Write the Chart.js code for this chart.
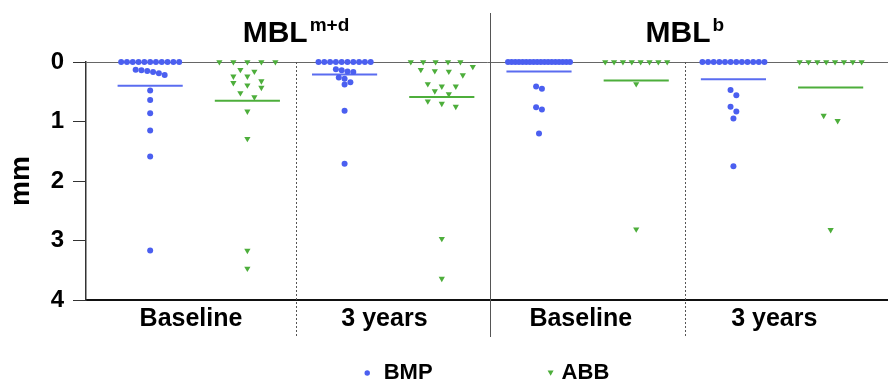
<!DOCTYPE html>
<html lang="en">
<head>
<meta charset="UTF-8" />
<title>MBL dot plot</title>
<script src="https://cdn.jsdelivr.net/npm/chart.js"></script>
<style>
  body { margin: 0; background: #fff; }
  .wrap { width: 888px; height: 383px; }
</style>
</head>
<body>
<div class="wrap"><canvas id="mbl-chart"></canvas></div>
<script>
// columns, left to right: MBL m+d baseline, MBL m+d 3 years, MBL b baseline, MBL b 3 years
const groupTitles = [["MBL", "m+d"], ["MBL", "b"]];
const timeLabels = ["Baseline", "3 years", "Baseline", "3 years"];
const seriesNames = ["BMP", "ABB"];
const yTicks = [0, 1, 2, 3, 4];

const bmpValues = [
  [0, 0, 0, 0, 0, 0, 0, 0, 0, 0, 0, 0.13, 0.14, 0.15, 0.17, 0.19, 0.22, 0.48, 0.64, 0.86, 1.15, 1.59, 3.17],
  [0, 0, 0, 0, 0, 0, 0, 0, 0, 0, 0.12, 0.14, 0.16, 0.17, 0.26, 0.28, 0.34, 0.38, 0.82, 1.71],
  [0, 0, 0, 0, 0, 0, 0, 0, 0, 0, 0, 0, 0, 0, 0, 0, 0, 0, 0.41, 0.45, 0.76, 0.80, 1.20],
  [0, 0, 0, 0, 0, 0, 0, 0, 0, 0, 0, 0, 0.47, 0.56, 0.75, 0.83, 0.95, 1.75]
];
const abbValues = [
  [0, 0, 0, 0, 0, 0.13, 0.16, 0.24, 0.24, 0.32, 0.35, 0.39, 0.43, 0.52, 0.59, 0.83, 1.29, 3.17, 3.47],
  [0, 0, 0, 0, 0, 0.08, 0.13, 0.15, 0.16, 0.22, 0.37, 0.41, 0.41, 0.49, 0.54, 0.66, 0.70, 0.75, 2.97, 3.64],
  [0, 0, 0, 0, 0, 0, 0, 0, 0.37, 2.81],
  [0, 0, 0, 0, 0, 0, 0, 0, 0.90, 0.99, 2.82]
];
const bmpMeans = [0.40, 0.21, 0.16, 0.29];
const abbMeans = [0.65, 0.59, 0.31, 0.43];

const BLUE = "#4b5ff0";
const GREEN = "#4dae3b";
const FONT = "'Liberation Sans', Arial, sans-serif";

// x axis: column k sits at x = k (BMP even, ABB odd)
const X_MIN = -0.66, X_MAX = 7.59;
const PX_PER_X = 802 / (X_MAX - X_MIN);
const labelPos = [0.42, 2.41, 4.43, 6.42];
const splitPos = [1.5, 3.5, 5.5];
const titlePos = [1.5, 5.5];
const MEAN_HALF = 0.335;

// simple row swarm: values within 0.1 mm share a row and get spread sideways
function swarm(values, col, gapPx, maxSpanPx) {
  const sorted = values.slice().sort((a, b) => a - b);
  const pts = [];
  let i = 0;
  while (i < sorted.length) {
    let j = i;
    while (j < sorted.length && sorted[j] - sorted[i] < 0.1) j++;
    const k = j - i;
    const step = k > 1 ? Math.min(gapPx, maxSpanPx / (k - 1)) : 0;
    for (let n = 0; n < k; n++) {
      pts.push({ x: col + ((n - (k - 1) / 2) * step) / PX_PER_X, y: sorted[i + n] });
    }
    i = j;
  }
  return pts;
}

const bmpPoints = bmpValues.flatMap((vals, c) => swarm(vals, c * 2, 5.8, 62));
const abbPoints = abbValues.flatMap((vals, c) => swarm(vals, c * 2 + 1, 14, 62));

function meanLine(m, col, color) {
  return {
    data: [{ x: col - MEAN_HALF, y: m }, { x: col + MEAN_HALF, y: m }],
    showLine: true,
    borderColor: color,
    borderWidth: 2,
    pointRadius: 0,
    clip: false
  };
}

const datasets = [
  {
    label: seriesNames[0],
    data: bmpPoints,
    pointStyle: "circle",
    pointRadius: 3,
    pointBackgroundColor: BLUE,
    pointBorderWidth: 0,
    clip: false
  },
  {
    label: seriesNames[1],
    data: abbPoints,
    pointStyle: "triangle",
    pointRotation: 180,
    pointRadius: 3.6,
    pointBackgroundColor: GREEN,
    pointBorderWidth: 0,
    clip: false
  }
]
  .concat(bmpMeans.map((m, c) => meanLine(m, c * 2, "#5a6cf0")))
  .concat(abbMeans.map((m, c) => meanLine(m, c * 2 + 1, GREEN)));

// separators, group titles and the legend row
const decor = {
  id: "decor",
  afterDraw(chart) {
    const { ctx, chartArea } = chart;
    const xs = chart.scales.x;
    ctx.save();

    splitPos.forEach((p, i) => {
      const x = Math.round(xs.getPixelForValue(p)) + 0.5;
      ctx.beginPath();
      ctx.lineWidth = 1;
      ctx.strokeStyle = "#555";
      if (i === 1) {
        ctx.setLineDash([]);
        ctx.moveTo(x, 13);
      } else {
        ctx.setLineDash([2, 2]);
        ctx.moveTo(x, chartArea.top);
      }
      ctx.lineTo(x, 337);
      ctx.stroke();
    });
    ctx.setLineDash([]);

    ctx.fillStyle = "#000";
    ctx.textBaseline = "alphabetic";
    ctx.textAlign = "left";
    groupTitles.forEach((t, g) => {
      ctx.font = "bold 30px " + FONT;
      const w1 = ctx.measureText(t[0]).width;
      ctx.font = "bold 19px " + FONT;
      const w2 = ctx.measureText(t[1]).width;
      const left = xs.getPixelForValue(titlePos[g]) - (w1 + 2 + w2) / 2;
      ctx.font = "bold 30px " + FONT;
      ctx.fillText(t[0], left, 42);
      ctx.font = "bold 19px " + FONT;
      ctx.fillText(t[1], left + w1 + 2, 31);
    });

    // legend
    const ly = 373;
    ctx.font = "bold 22px " + FONT;
    ctx.textBaseline = "middle";
    const wB = ctx.measureText(seriesNames[0]).width;
    const wA = ctx.measureText(seriesNames[1]).width;
    const total = 3 + 16 + wB + 118 + 3 + 8 + wA;
    let x = (chartArea.left + chartArea.right) / 2 - total / 2;
    ctx.fillStyle = BLUE;
    ctx.beginPath();
    ctx.arc(x + 2.5, ly, 2.7, 0, Math.PI * 2);
    ctx.fill();
    ctx.fillStyle = "#000";
    ctx.fillText(seriesNames[0], x + 19, ly);
    x += 19 + wB + 118;
    ctx.fillStyle = GREEN;
    ctx.beginPath();
    ctx.moveTo(x - 3, ly - 2.5);
    ctx.lineTo(x + 3, ly - 2.5);
    ctx.lineTo(x, ly + 2.8);
    ctx.closePath();
    ctx.fill();
    ctx.fillStyle = "#000";
    ctx.fillText(seriesNames[1], x + 11, ly);

    ctx.restore();
  }
};

Chart.defaults.font.family = FONT;

new Chart(document.getElementById("mbl-chart"), {
  type: "scatter",
  data: { datasets },
  options: {
    responsive: true,
    maintainAspectRatio: false,
    animation: false,
    layout: { autoPadding: false, padding: { top: 62, left: 0, right: 0, bottom: 40 } },
    plugins: {
      legend: { display: false },
      tooltip: { enabled: false }
    },
    scales: {
      x: {
        type: "linear",
        min: X_MIN,
        max: X_MAX,
        afterBuildTicks: (s) => { s.ticks = labelPos.map((v) => ({ value: v })); },
        afterFit: (s) => { s.height = 43; },
        border: { color: "#111", width: 2 },
        grid: { drawOnChartArea: false, drawTicks: false },
        ticks: {
          color: "#000",
          font: { size: 25, weight: "bold" },
          padding: 4,
          maxRotation: 0,
          autoSkip: false,
          callback: (v, i) => timeLabels[i]
        }
      },
      y: {
        reverse: true,
        min: 0,
        max: 4,
        afterBuildTicks: (s) => { s.ticks = yTicks.map((v) => ({ value: v })); },
        afterFit: (s) => { s.width = 86; },
        border: { color: "#333", width: 1.5 },
        grid: {
          color: (c) => (c.tick && c.tick.value === 0 ? "#666" : "rgba(0,0,0,0)"),
          tickColor: "#333",
          tickLength: 13,
          lineWidth: 1
        },
        ticks: {
          color: "#000",
          font: { size: 24, weight: "bold" },
          padding: 9
        },
        title: {
          display: true,
          text: "mm",
          color: "#000",
          font: { size: 28, weight: "bold" },
          padding: { top: 4, bottom: 4 }
        }
      }
    }
  },
  plugins: [decor]
});
</script>
</body>
</html>
